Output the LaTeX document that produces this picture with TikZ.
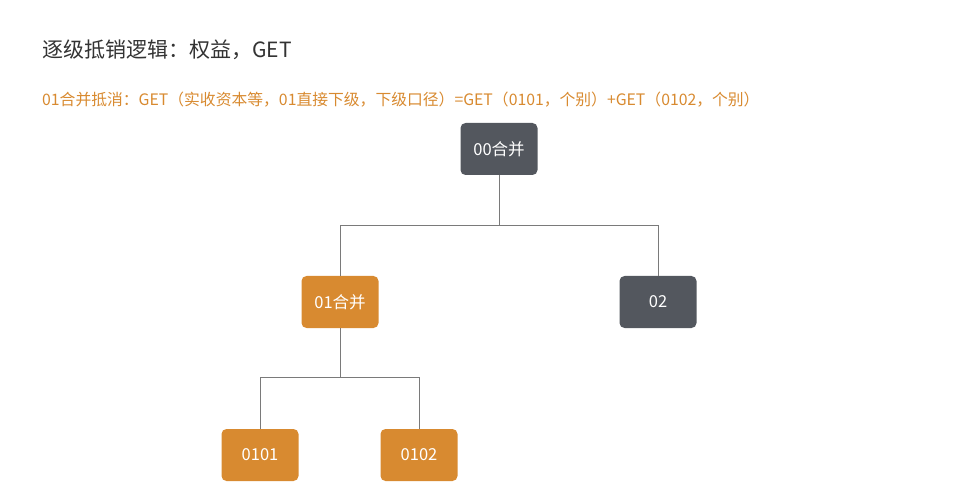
\documentclass[tikz,border=0pt]{standalone}
\usepackage{fontspec}
\setmainfont{Noto Sans CJK SC}
\usepackage{xcolor}
\usepackage{tikz}
\usetikzlibrary{positioning,calc}
\definecolor{mergeorange}{HTML}{D88A30}
\definecolor{entitygray}{HTML}{53575E}
\definecolor{titlegray}{HTML}{333333}
\definecolor{lineGray}{HTML}{7A7A7A}
\tikzstyle{entity} = [rectangle, rounded corners=5pt, minimum width=77pt, minimum height=52pt, text=white, font=\fontsize{16.5}{19}\selectfont, inner sep=0pt]
\tikzstyle{branch} = [draw=lineGray, line width=1pt]

\begin{document}
\begin{tikzpicture}[x=1pt, y=-1pt]
    % canvas
    \useasboundingbox (0,0) rectangle (966,494);
    
    % Title and note
    \node[anchor=west, inner sep=0pt, text=titlegray, font=\fontsize{21}{25}\selectfont] (title) at (42,50) {逐级抵销逻辑：权益，GET};
    \node[anchor=west, inner sep=0pt, text=mergeorange, font=\fontsize{15.8}{18}\selectfont] (note) at (42,100) {01合并抵消：GET（实收资本等，01直接下级，下级口径）=GET（0101，个别）+GET（0102，个别）};
    
    % Entities
    \node[entity, fill=entitygray] (m00) at (499,149) {00合并};
    \node[entity, fill=mergeorange] (m01) at (340,302) {01合并};
    \node[entity, fill=entitygray] (e02) at (658,302) {02};
    \node[entity, fill=mergeorange] (e0101) at (260,455) {0101};
    \node[entity, fill=mergeorange] (e0102) at (419,455) {0102};
    
    % Branch points
    \coordinate (j00) at (499,226);
    \coordinate (j01) at (340,377);
    
    % Tree lines
    \draw[branch] (m00.south) -- (j00) -| (m01.north);
    \draw[branch] (j00) -| (e02.north);
    \draw[branch] (m01.south) -- (j01) -| (e0101.north);
    \draw[branch] (j01) -| (e0102.north);
\end{tikzpicture}
\end{document}
